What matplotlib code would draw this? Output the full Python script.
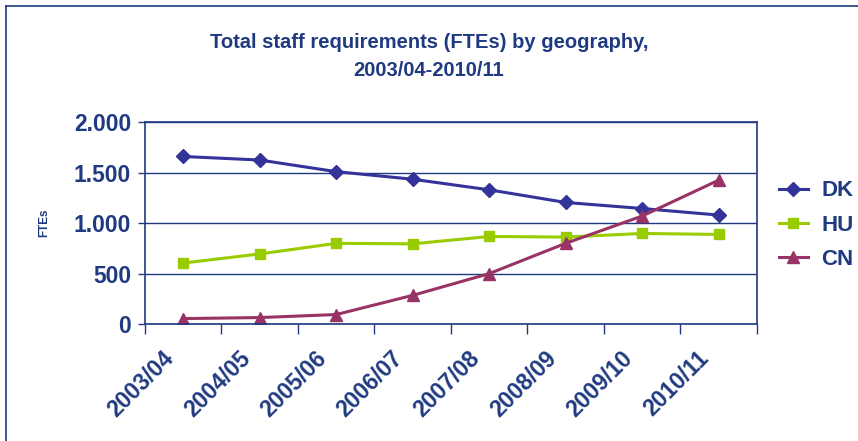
import matplotlib
matplotlib.use("Agg")
import matplotlib.pyplot as plt
import matplotlib.transforms as mtransforms
from matplotlib.lines import Line2D

plt.rcParams['font.family'] = ['Liberation Sans', 'DejaVu Sans']

years = ["2003/04", "2004/05", "2005/06", "2006/07", "2007/08", "2008/09", "2009/10", "2010/11"]
dk = [1660, 1625, 1510, 1435, 1330, 1205, 1145, 1080]
hu = [605, 695, 800, 795, 868, 862, 898, 888]
cn = [55, 65, 95, 285, 500, 800, 1070, 1425]

navy = '#1F3A80'
fig = plt.figure(figsize=(8.58, 4.41), dpi=100)
ax = fig.add_axes([0.169, 0.265, 0.713, 0.458])

x = list(range(len(years)))
ax.plot(x, dk, color='#333399', lw=2.2, marker='D', ms=7, label='DK')
ax.plot(x, hu, color='#99CC00', lw=2.2, marker='s', ms=7.5, label='HU')
ax.plot(x, cn, color='#993366', lw=2.2, marker='^', ms=8.5, label='CN')

ax.set_xlim(-0.5, len(years) - 0.5)
ax.set_ylim(0, 2000)
ax.set_yticks([0, 500, 1000, 1500, 2000])
ax.set_yticklabels(['0', '500', '1.000', '1.500', '2.000'])
ax.yaxis.grid(True, color=navy, lw=1)
ax.set_axisbelow(True)

ax.set_xticks(x)
ax.set_xticklabels(years, rotation=45, ha='right', va='center', rotation_mode='anchor')
ax.set_xticks([i - 0.5 for i in range(len(years) + 1)], minor=True)
ax.tick_params(axis='x', which='major', length=0, pad=22, labelsize=16.5, labelcolor=navy)
ax.tick_params(axis='x', which='minor', length=7, width=1, color=navy)
ax.tick_params(axis='y', length=5, width=1, color=navy, labelsize=16.5, labelcolor=navy, pad=5)
shift = mtransforms.ScaledTranslation(-13 / 100, 0, fig.dpi_scale_trans)
for lbl in ax.get_xticklabels():
    lbl.set_fontweight('bold')
    lbl.set_transform(lbl.get_transform() + shift)
for lbl in ax.get_yticklabels():
    lbl.set_fontweight('bold')

for s in ax.spines.values():
    s.set_color(navy)
    s.set_linewidth(1.2)

ax.set_ylabel('FTEs', fontsize=8.5, fontweight='bold', color=navy, labelpad=17)

fig.text(0.5, 0.872, 'Total staff requirements (FTEs) by geography,\n2003/04-2010/11',
         ha='center', va='center', fontsize=14.5, fontweight='bold', color=navy,
         linespacing=1.55)

leg = ax.legend(loc='center left', bbox_to_anchor=(1.0, 0.49), frameon=False,
                prop={'weight': 'bold', 'size': 16}, handlelength=1.3,
                labelspacing=0.6, handletextpad=0.6, borderaxespad=0.6, borderpad=0.4)
for t in leg.get_texts():
    t.set_color(navy)

# chart border
fig.add_artist(Line2D([0.007, 0.007], [0, 0.986], transform=fig.transFigure, color=navy, lw=1.2))
fig.add_artist(Line2D([0.007, 1.0], [0.986, 0.986], transform=fig.transFigure, color=navy, lw=1.2))

fig.savefig('out.png', dpi=100)
